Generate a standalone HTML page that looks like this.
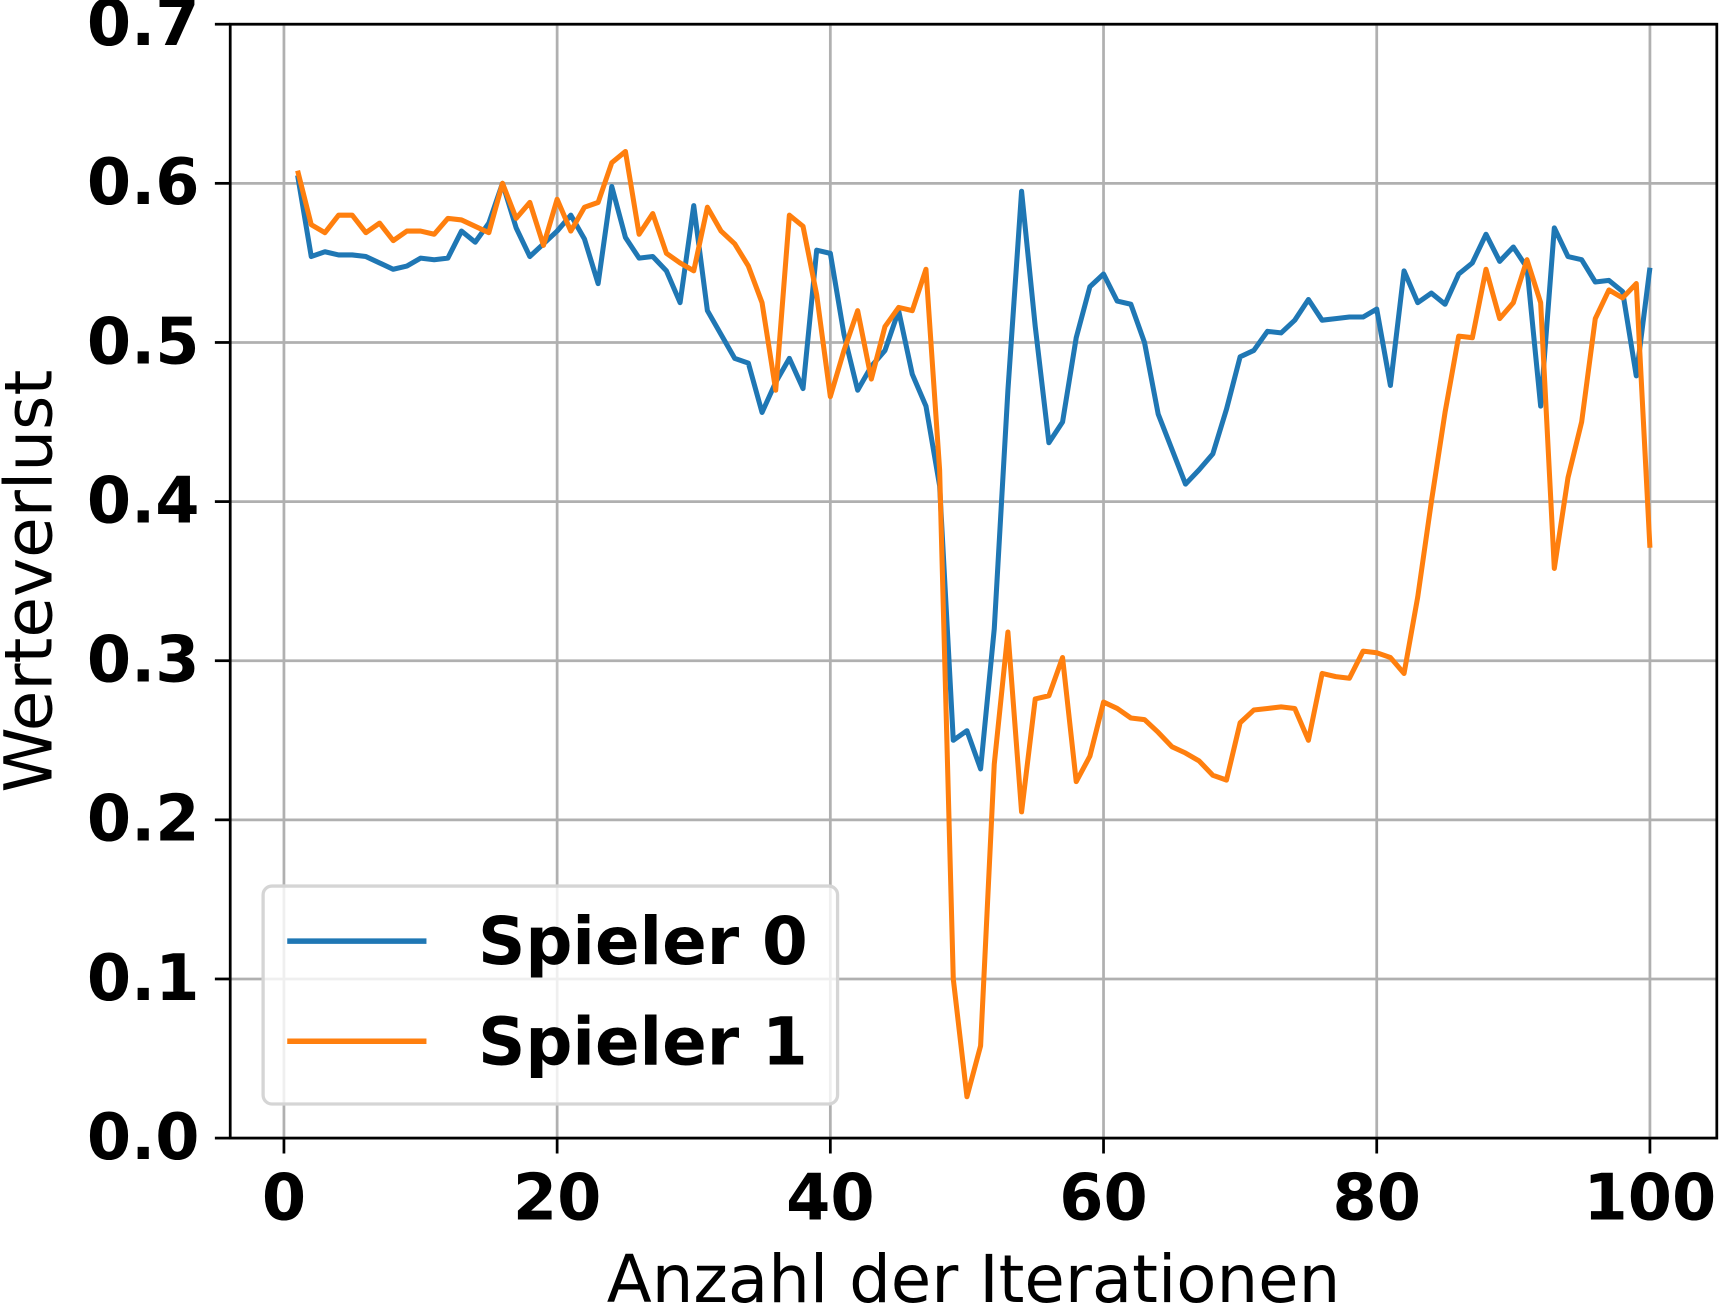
<!DOCTYPE html>
<html><head><meta charset="utf-8"><style>
html,body{margin:0;padding:0;background:#fff;}
svg{display:block;}
text{font-family:"DejaVu Sans","Liberation Sans",sans-serif;}
</style></head><body>
<svg id="chart" width="1719" height="1312" viewBox="0 0 1568 1192" preserveAspectRatio="none" xmlns="http://www.w3.org/2000/svg">
<g id="grid"></g>
<g id="series"></g>
<g id="axes"></g>
<g id="legend">
  <rect x="240" y="805" width="524" height="198" rx="8" fill="rgba(255,255,255,0.8)" stroke="#d5d5d5" stroke-width="3"/>
  <line x1="262" y1="855" x2="389" y2="855" stroke="#1f77b4" stroke-width="5"/>
  <text x="436" y="876" font-size="60" font-weight="bold">Spieler 0</text>
  <line x1="262" y1="946" x2="389" y2="946" stroke="#ff7f0e" stroke-width="5"/>
  <text x="436" y="967" font-size="60" font-weight="bold">Spieler 1</text>
</g>
<text x="888" y="1183" font-size="60" text-anchor="middle">Anzahl der Iterationen</text>
<text transform="translate(47,528) rotate(-90)" font-size="60" text-anchor="middle">Werteverlust</text>
</svg>
<script>
const xTicks = [0, 20, 40, 60, 80, 100];
const yTicks = [0.0, 0.1, 0.2, 0.3, 0.4, 0.5, 0.6, 0.7];
const yTickLabels = ["0.0","0.1","0.2","0.3","0.4","0.5","0.6","0.7"];
const iterations = Array.from({length:100},(_,i)=>i+1);
const spieler0 = [0.605,0.554,0.557,0.555,0.555,0.554,0.55,0.546,0.548,0.553,0.552,0.553,0.57,0.563,0.575,0.6,0.572,0.554,0.562,0.57,0.58,0.565,0.537,0.598,0.566,0.553,0.554,0.545,0.525,0.586,0.52,0.505,0.49,0.487,0.456,0.475,0.49,0.471,0.558,0.556,0.505,0.47,0.485,0.495,0.52,0.48,0.46,0.41,0.25,0.256,0.232,0.32,0.47,0.595,0.51,0.437,0.45,0.503,0.535,0.543,0.526,0.524,0.5,0.455,0.433,0.411,0.42,0.43,0.458,0.491,0.495,0.507,0.506,0.514,0.527,0.514,0.515,0.516,0.516,0.521,0.473,0.545,0.525,0.531,0.524,0.543,0.55,0.568,0.551,0.56,0.547,0.46,0.572,0.554,0.552,0.538,0.539,0.532,0.479,0.547];
const spieler1 = [0.608,0.574,0.569,0.58,0.58,0.569,0.575,0.564,0.57,0.57,0.568,0.578,0.577,0.573,0.569,0.6,0.578,0.588,0.561,0.59,0.57,0.585,0.588,0.613,0.62,0.568,0.581,0.556,0.55,0.545,0.585,0.57,0.562,0.548,0.525,0.47,0.58,0.573,0.53,0.466,0.495,0.52,0.477,0.51,0.522,0.52,0.546,0.42,0.1,0.026,0.058,0.235,0.318,0.205,0.276,0.278,0.302,0.224,0.24,0.274,0.27,0.264,0.263,0.255,0.246,0.242,0.237,0.228,0.225,0.261,0.269,0.27,0.271,0.27,0.25,0.292,0.29,0.289,0.306,0.305,0.302,0.292,0.34,0.4,0.456,0.504,0.503,0.546,0.515,0.525,0.552,0.525,0.358,0.415,0.45,0.515,0.533,0.528,0.537,0.371];

const NS="http://www.w3.org/2000/svg";
const L=210,R=1566,T=22,B=1034;
const xs=v=>259+(v/100)*(1505-259);
const ys=v=>B-(v/0.7)*(B-T);
function mk(tag,attrs,parent){const e=document.createElementNS(NS,tag);for(const k in attrs)e.setAttribute(k,attrs[k]);parent.appendChild(e);return e;}
const grid=document.getElementById('grid'),axes=document.getElementById('axes'),series=document.getElementById('series');
xTicks.forEach(t=>{
  const g=mk('line',{x1:xs(t),x2:xs(t),y1:T,y2:B,stroke:'#b0b0b0','stroke-width':2.5},grid);
  
  
  const tk=mk('line',{x1:xs(t),x2:xs(t),y1:B,y2:B+14,stroke:'#000','stroke-width':2.5},axes);
  
  
  const tx=mk('text',{x:xs(t),y:1108,'font-size':58,'font-weight':'bold','text-anchor':'middle'},axes);
  tx.textContent=t;
  
  
});
yTicks.forEach((t,i)=>{
  const g=mk('line',{x1:L,x2:R,y1:ys(t),y2:ys(t),stroke:'#b0b0b0','stroke-width':2.5},grid);
  
  
  const tk=mk('line',{x1:L-14,x2:L,y1:ys(t),y2:ys(t),stroke:'#000','stroke-width':2.5},axes);
  
  
  const tx=mk('text',{x:182,y:ys(t)+19,'font-size':58,'font-weight':'bold','text-anchor':'end'},axes);
  tx.textContent=yTickLabels[i];
  
  
});
const frame=mk('rect',{x:L,y:T,width:R-L,height:B-T,fill:'none',stroke:'#000','stroke-width':2.5},axes);


[[spieler0,'#1f77b4','line-spieler-0'],[spieler1,'#ff7f0e','line-spieler-1']].forEach(([d,c,n])=>{
  const p=mk('polyline',{points:d.map((v,i)=>xs(iterations[i])+','+ys(v)).join(' '),fill:'none',stroke:c,'stroke-width':4.6,'stroke-linejoin':'round'},series);
  
  
});
</script>
</body></html>
